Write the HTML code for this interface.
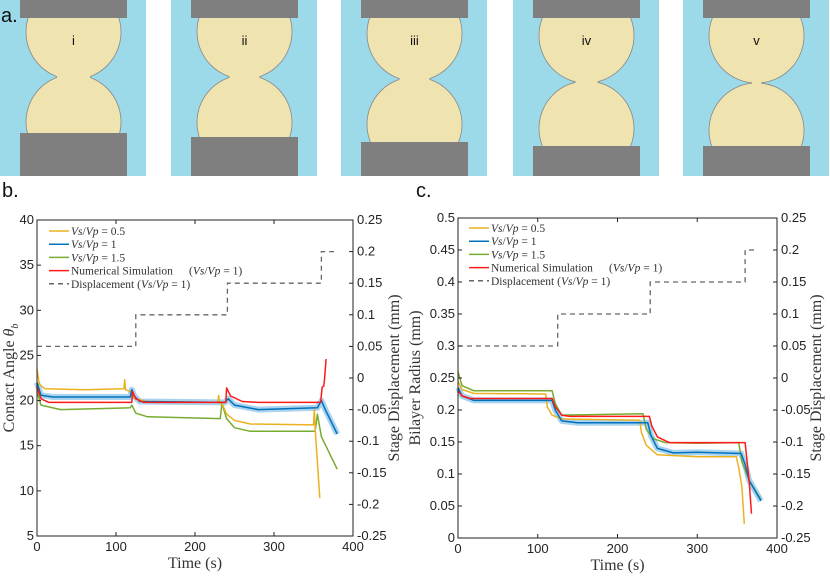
<!DOCTYPE html>
<html><head><meta charset="utf-8"><style>
html,body{margin:0;padding:0;background:#fff;}
svg{display:block;}
.tk{font-family:"Liberation Sans",sans-serif;font-size:13px;fill:#222;}
.sf{font-family:"Liberation Serif",serif;fill:#333;}
</style></head><body>
<svg id="fig" width="830" height="577" viewBox="0 0 830 577" xmlns="http://www.w3.org/2000/svg">
<g id="panelA"></g>
<text x="1" y="22" font-family="Liberation Sans,sans-serif" font-size="20" fill="#111">a.</text>
<text x="2" y="197" font-family="Liberation Sans,sans-serif" font-size="20" fill="#111">b.</text>
<text x="416" y="197" font-family="Liberation Sans,sans-serif" font-size="20" fill="#111">c.</text>
<g id="chartB"></g>
<g id="chartC"></g>
</svg>
<script>
var NS="http://www.w3.org/2000/svg";
function mk(p,t,a){var e=document.createElementNS(NS,t);for(var k in a)e.setAttribute(k,a[k]);p.appendChild(e);return e;}

var schemX=[0,171,341,513,683];
var neckY=[77,77,79,82,83];
var neckH=[15.5,14,14,10,3.5];
var botY=[133,137,142,146,146];
var schemLabels=["i","ii","iii","iv","v"];
var A=document.getElementById('panelA');
for(var i=0;i<5;i++){
  var x0=schemX[i],cx=x0+73.5,r=47.5;
  var g=mk(A,'g',{});
  
  
  mk(g,'rect',{x:x0,y:0,width:146,height:176,fill:'#9cd9e9'});
  var dy=Math.sqrt(r*r-neckH[i]*neckH[i]);
  var cid='cl'+i;
  var cp=mk(g,'clipPath',{id:cid});mk(cp,'rect',{x:x0,y:0,width:146,height:176});
  var gg=mk(g,'g',{'clip-path':'url(#'+cid+')'});
  mk(gg,'circle',{cx:cx,cy:neckY[i]-dy,r:r,fill:'#efe3b0',stroke:'#888','stroke-width':0.8});
  mk(gg,'circle',{cx:cx,cy:neckY[i]+dy,r:r,fill:'#efe3b0',stroke:'#888','stroke-width':0.8});
  mk(gg,'rect',{x:cx-neckH[i]-1,y:neckY[i]-6,width:2*neckH[i]+2,height:12,fill:'#efe3b0'});
  mk(g,'rect',{x:x0+20,y:0,width:107,height:18,fill:'#7f7f7f'});
  mk(g,'rect',{x:x0+20,y:botY[i],width:107,height:176-botY[i],fill:'#7f7f7f'});
  var t=mk(g,'text',{x:cx,y:45,'text-anchor':'middle','font-family':'Liberation Sans,sans-serif','font-size':13,fill:'#111'});
  t.textContent=schemLabels[i];
}

var dispT=[0,125,125,241,241,360,360,376];
var dispV=[0.05,0.05,0.1,0.1,0.15,0.15,0.2,0.2];

var bYellowT=[0,3,10,60,110,111,112,118,120,125,140,229,230,231,235,240,250,270,350,351,352,358];
var bYellowV=[23.5,21.8,21.3,21.2,21.3,22.3,21.2,21,20.5,20.2,19.9,19.8,20.6,19.8,19.5,18.5,17.8,17.4,17.3,19,17,9.2];
var bBlueT=[0,5,20,118,120,123,130,238,242,250,280,355,360,365,380];
var bBlueV=[22,20.6,20.4,20.4,21.2,20.5,19.9,19.8,20.2,19.5,19,19.2,20,19,16.3];
var bGreenT=[0,5,30,118,120,125,140,232,234,240,250,270,352,355,360,380];
var bGreenV=[21,19.5,19,19.2,19.5,18.6,18.2,18,19.7,18,17,16.6,16.6,18.5,16,12.4];
var bRedT=[0,5,15,120,121,125,135,239,240,245,260,280,359,361,363,364,366];
var bRedV=[21.5,20.2,19.8,19.8,21,20.2,19.8,19.8,21.4,20.5,19.9,19.8,19.8,21.5,21.6,22.5,24.6];

var cYellowT=[0,5,20,110,112,118,130,228,230,236,250,300,349,352,356,359];
var cYellowV=[0.245,0.232,0.226,0.225,0.205,0.192,0.186,0.184,0.165,0.145,0.13,0.127,0.127,0.11,0.08,0.022];
var cBlueT=[0,5,20,118,122,130,150,238,242,250,270,300,355,360,365,380];
var cBlueV=[0.235,0.222,0.215,0.215,0.2,0.183,0.18,0.18,0.16,0.14,0.133,0.134,0.132,0.115,0.09,0.058];
var cGreenT=[0,5,20,118,122,130,232,236,245,260,300,352,356,365,380];
var cGreenV=[0.26,0.238,0.23,0.23,0.21,0.192,0.194,0.17,0.155,0.149,0.148,0.149,0.12,0.09,0.06];
var cRedT=[0,5,15,118,122,130,140,240,243,250,265,360,365,368];
var cRedV=[0.23,0.222,0.218,0.218,0.205,0.192,0.19,0.19,0.175,0.158,0.149,0.149,0.09,0.038];

var xTicks=[0,100,200,300,400];
var bYTicks=[5,10,15,20,25,30,35,40];
var cYTicks=[0,0.05,0.1,0.15,0.2,0.25,0.3,0.35,0.4,0.45,0.5];
var cYTickLabels=["0","0.05","0.1","0.15","0.2","0.25","0.3","0.35","0.4","0.45","0.5"];
var rTicks=[-0.25,-0.2,-0.15,-0.1,-0.05,0,0.05,0.1,0.15,0.2,0.25];
var rTickLabels=["-0.25","-0.2","-0.15","-0.1","-0.05","0","0.05","0.1","0.15","0.2","0.25"];

function chart(root,o){
  var X=function(t){return o.x0+(t/400)*(o.x1-o.x0);};
  var Y=function(v){return o.y1-(v-o.ymin)/(o.ymax-o.ymin)*(o.y1-o.y0);};
  var R=function(v){return o.y1-(v+0.25)/0.5*(o.y1-o.y0);};
  function path(ts,vs,f){var d='';for(var i=0;i<ts.length;i++)d+=(i?'L':'M')+X(ts[i]).toFixed(1)+' '+f(vs[i]).toFixed(1);return d;}
  var dp=mk(root,'path',{d:path(dispT,dispV,R),fill:'none',stroke:'#666','stroke-width':1.3,'stroke-dasharray':'5,4'});
  
  
  var bd=mk(root,'path',{d:path(o.s[1].t,o.s[1].v,Y),fill:'none',stroke:'#a9d3ee','stroke-width':6,'stroke-linejoin':'round'});
  
  
  var cols=['#edb120','#0072bd','#77ac30','#ff1a1a'];
  var names=['series-vsvp-0-5','series-vsvp-1','series-vsvp-1-5','series-simulation'];
  var order=[2,0,1,3];
  order.forEach(function(k){
    var p=mk(root,'path',{d:path(o.s[k].t,o.s[k].v,Y),fill:'none',stroke:cols[k],'stroke-width':1.5,'stroke-linejoin':'round'});
    
    
  });
  var bx=mk(root,'rect',{x:o.x0,y:o.y0,width:o.x1-o.x0,height:o.y1-o.y0,fill:'none',stroke:'#222','stroke-width':1});
  
  
  xTicks.forEach(function(t){
    var x=X(t);
    mk(root,'line',{x1:x,x2:x,y1:o.y1,y2:o.y1-4,stroke:'#222'});
    mk(root,'line',{x1:x,x2:x,y1:o.y0,y2:o.y0+4,stroke:'#222'});
    var tx=mk(root,'text',{x:x,y:o.y1+15,'text-anchor':'middle','class':'tk'});tx.textContent=t;
    
    
  });
  o.yt.forEach(function(v,i){
    var y=Y(v);
    mk(root,'line',{x1:o.x0,x2:o.x0+4,y1:y,y2:y,stroke:'#222'});
    var tx=mk(root,'text',{x:o.x0-3,y:y+4,'text-anchor':'end','class':'tk'});tx.textContent=o.yl[i];
    
    
  });
  rTicks.forEach(function(v,i){
    var y=R(v);
    mk(root,'line',{x1:o.x1,x2:o.x1-4,y1:y,y2:y,stroke:'#222'});
    var tx=mk(root,'text',{x:o.x1+4,y:y+4,'class':'tk'});tx.textContent=rTickLabels[i];
    
    
  });
  var xt=mk(root,'text',{x:(o.x0+o.x1)/2,y:o.y1+32,'text-anchor':'middle','class':'sf','font-size':16});xt.textContent='Time (s)';
  
  
  var yt=mk(root,'text',{transform:'translate('+o.ylx+','+(o.y0+o.y1)/2+') rotate(-90)','text-anchor':'middle','class':'sf','font-size':16});
  yt.innerHTML=o.ytitle;
  
  
  var rt=mk(root,'text',{transform:'translate('+o.rlx+','+(o.y0+o.y1)/2+') rotate(-90)','text-anchor':'middle','class':'sf','font-size':16});
  rt.textContent='Stage Displacement (mm)';
  
  
  var lg=mk(root,'g',{});
  
  
  var labs=['<tspan font-style="italic">Vs</tspan>/<tspan font-style="italic">Vp</tspan> = 0.5','<tspan font-style="italic">Vs</tspan>/<tspan font-style="italic">Vp</tspan> = 1','<tspan font-style="italic">Vs</tspan>/<tspan font-style="italic">Vp</tspan> = 1.5','Numerical Simulation','Displacement (<tspan font-style="italic">Vs</tspan>/<tspan font-style="italic">Vp</tspan> = 1)'];
  var lc=['#edb120','#0072bd','#77ac30','#ff1a1a','#666'];
  for(var i=0;i<5;i++){
    var y=o.ly+i*13.2;
    var l=mk(lg,'line',{x1:o.lx,x2:o.lx+20,y1:y,y2:y,stroke:lc[i],'stroke-width':1.5});
    if(i==4)l.setAttribute('stroke-dasharray','5,4');
    var tx=mk(lg,'text',{x:o.lx+22,y:y+4,'class':'sf','font-size':11.5});tx.innerHTML=labs[i];
    
    
  }
  var ex=mk(lg,'text',{x:o.lx+140,y:o.ly+3*13.2+4,'class':'sf','font-size':11.5});
  ex.innerHTML='(<tspan font-style="italic">Vs</tspan>/<tspan font-style="italic">Vp</tspan> = 1)';
}
chart(document.getElementById('chartB'),{x0:37,x1:353,y0:220,y1:536,ymin:5,ymax:40,yt:bYTicks,yl:bYTicks.map(String),
  s:[{t:bYellowT,v:bYellowV},{t:bBlueT,v:bBlueV},{t:bGreenT,v:bGreenV},{t:bRedT,v:bRedV}],
  ylx:14,rlx:399,ytitle:'Contact Angle <tspan font-style="italic">θ</tspan><tspan font-style="italic" font-size="10" dy="4">b</tspan>',lx:49,ly:231});
chart(document.getElementById('chartC'),{x0:458,x1:777,y0:218,y1:538,ymin:0,ymax:0.5,yt:cYTicks,yl:cYTickLabels,
  s:[{t:cYellowT,v:cYellowV},{t:cBlueT,v:cBlueV},{t:cGreenT,v:cGreenV},{t:cRedT,v:cRedV}],
  ylx:420,rlx:821,ytitle:'Bilayer Radius (mm)',lx:469,ly:228});
</script>
</body></html>
